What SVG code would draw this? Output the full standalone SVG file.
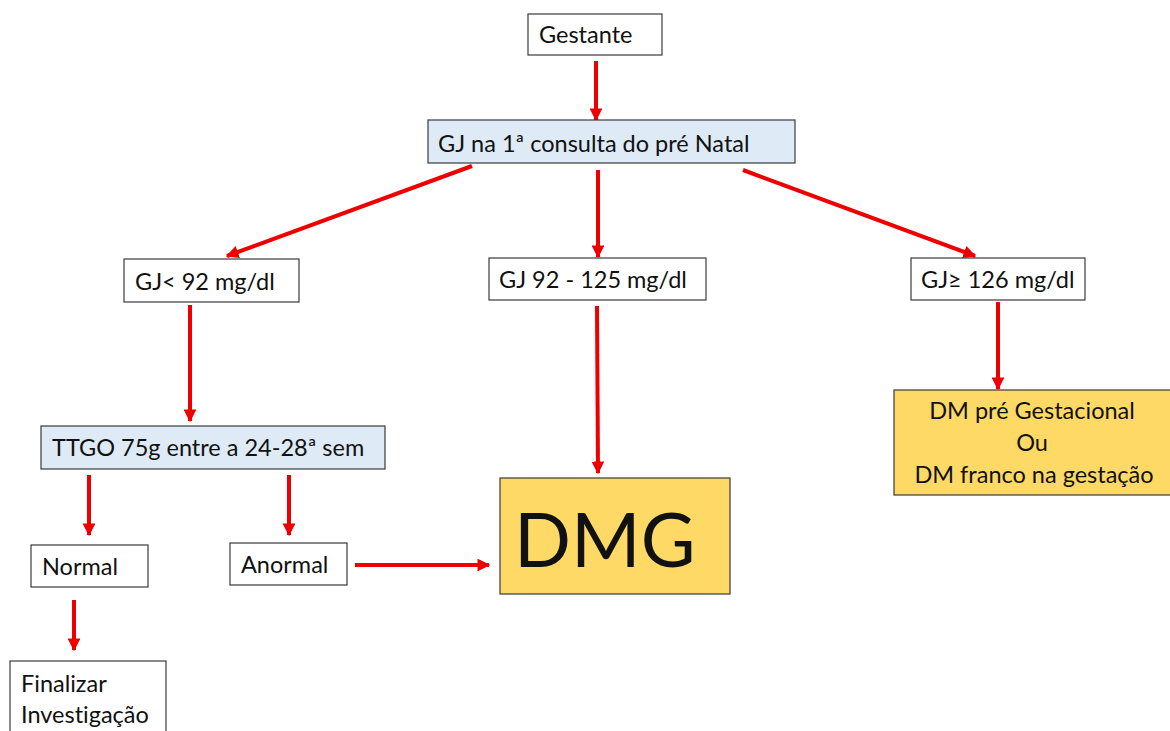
<svg xmlns="http://www.w3.org/2000/svg" width="1170" height="731" viewBox="0 0 1170 731">
<style>
.box{fill:#fff;stroke:#3a3a3a;stroke-width:1.2}
.blue{fill:#DEEBF7;stroke:#3a3a3a;stroke-width:1.2}
.gold{fill:#FFD966;stroke:#3a3a3a;stroke-width:1.2}
text{font-family:Lato,"Liberation Sans",sans-serif;font-size:23.5px;fill:#111;font-variant-ligatures:none}
.c line{stroke:#EE0000;stroke-width:4;marker-end:url(#ah)}
</style>
<defs>
<marker id="ah" viewBox="0 0 10 10" refX="9" refY="5" markerWidth="3.2" markerHeight="3.2" orient="auto" markerUnits="strokeWidth">
<path d="M0,0 L10,5 L0,10 z" fill="#EE0000"/>
</marker>
</defs>
<rect width="1170" height="731" fill="#fff"/>
<g class="c" id="connectors">
<line x1="596" y1="61" x2="596" y2="120"/>
<line x1="472" y1="166" x2="227" y2="256"/>
<line x1="598" y1="170" x2="598" y2="257"/>
<line x1="743" y1="170" x2="975" y2="256"/>
<line x1="190" y1="305" x2="190" y2="421"/>
<line x1="597" y1="306" x2="598" y2="473"/>
<line x1="998" y1="302" x2="998" y2="389"/>
<line x1="89" y1="475" x2="89" y2="535"/>
<line x1="289" y1="475" x2="289" y2="535"/>
<line x1="355" y1="565" x2="489" y2="565"/>
<line x1="74" y1="600" x2="74" y2="650"/>
</g>
<g id="gestante"><rect class="box" x="528" y="14" width="134" height="41"/><text x="539" y="43">Gestante</text></g>
<g id="gj1"><rect class="blue" x="428" y="120" width="367" height="43"/><text x="438" y="152">GJ na 1ª consulta do pré Natal</text></g>
<g id="gj92"><rect class="box" x="124" y="259" width="175" height="43"/><text x="135" y="290">GJ&lt; 92 mg/dl</text></g>
<g id="gj125"><rect class="box" x="489" y="258" width="217" height="42"/><text x="499" y="288">GJ 92 - 125 mg/dl</text></g>
<g id="gj126"><rect class="box" x="911" y="258" width="174" height="42"/><text x="921" y="288">GJ≥ 126 mg/dl</text></g>
<g id="ttgo"><rect class="blue" x="41" y="426" width="344" height="43"/><text x="52" y="456">TTGO 75g entre a 24-28ª sem</text></g>
<g id="dmg"><rect class="gold" x="500" y="478" width="230" height="116"/><text x="514" y="567" style="font-size:75px">DMG</text></g>
<g id="dmpre"><rect class="gold" x="894" y="390" width="280" height="105"/>
<text x="1032" y="419" text-anchor="middle">DM pré Gestacional</text>
<text x="1032" y="451" text-anchor="middle">Ou</text>
<text x="1034" y="483" text-anchor="middle">DM franco na gestação</text></g>
<g id="normal"><rect class="box" x="31" y="545" width="117" height="42"/><text x="42" y="575">Normal</text></g>
<g id="anormal"><rect class="box" x="230" y="543" width="117" height="42"/><text x="241" y="573">Anormal</text></g>
<g id="finalizar"><rect class="box" x="10" y="661" width="156" height="80"/><text x="21" y="692">Finalizar</text><text x="21" y="723">Investigação</text></g>
</svg>
